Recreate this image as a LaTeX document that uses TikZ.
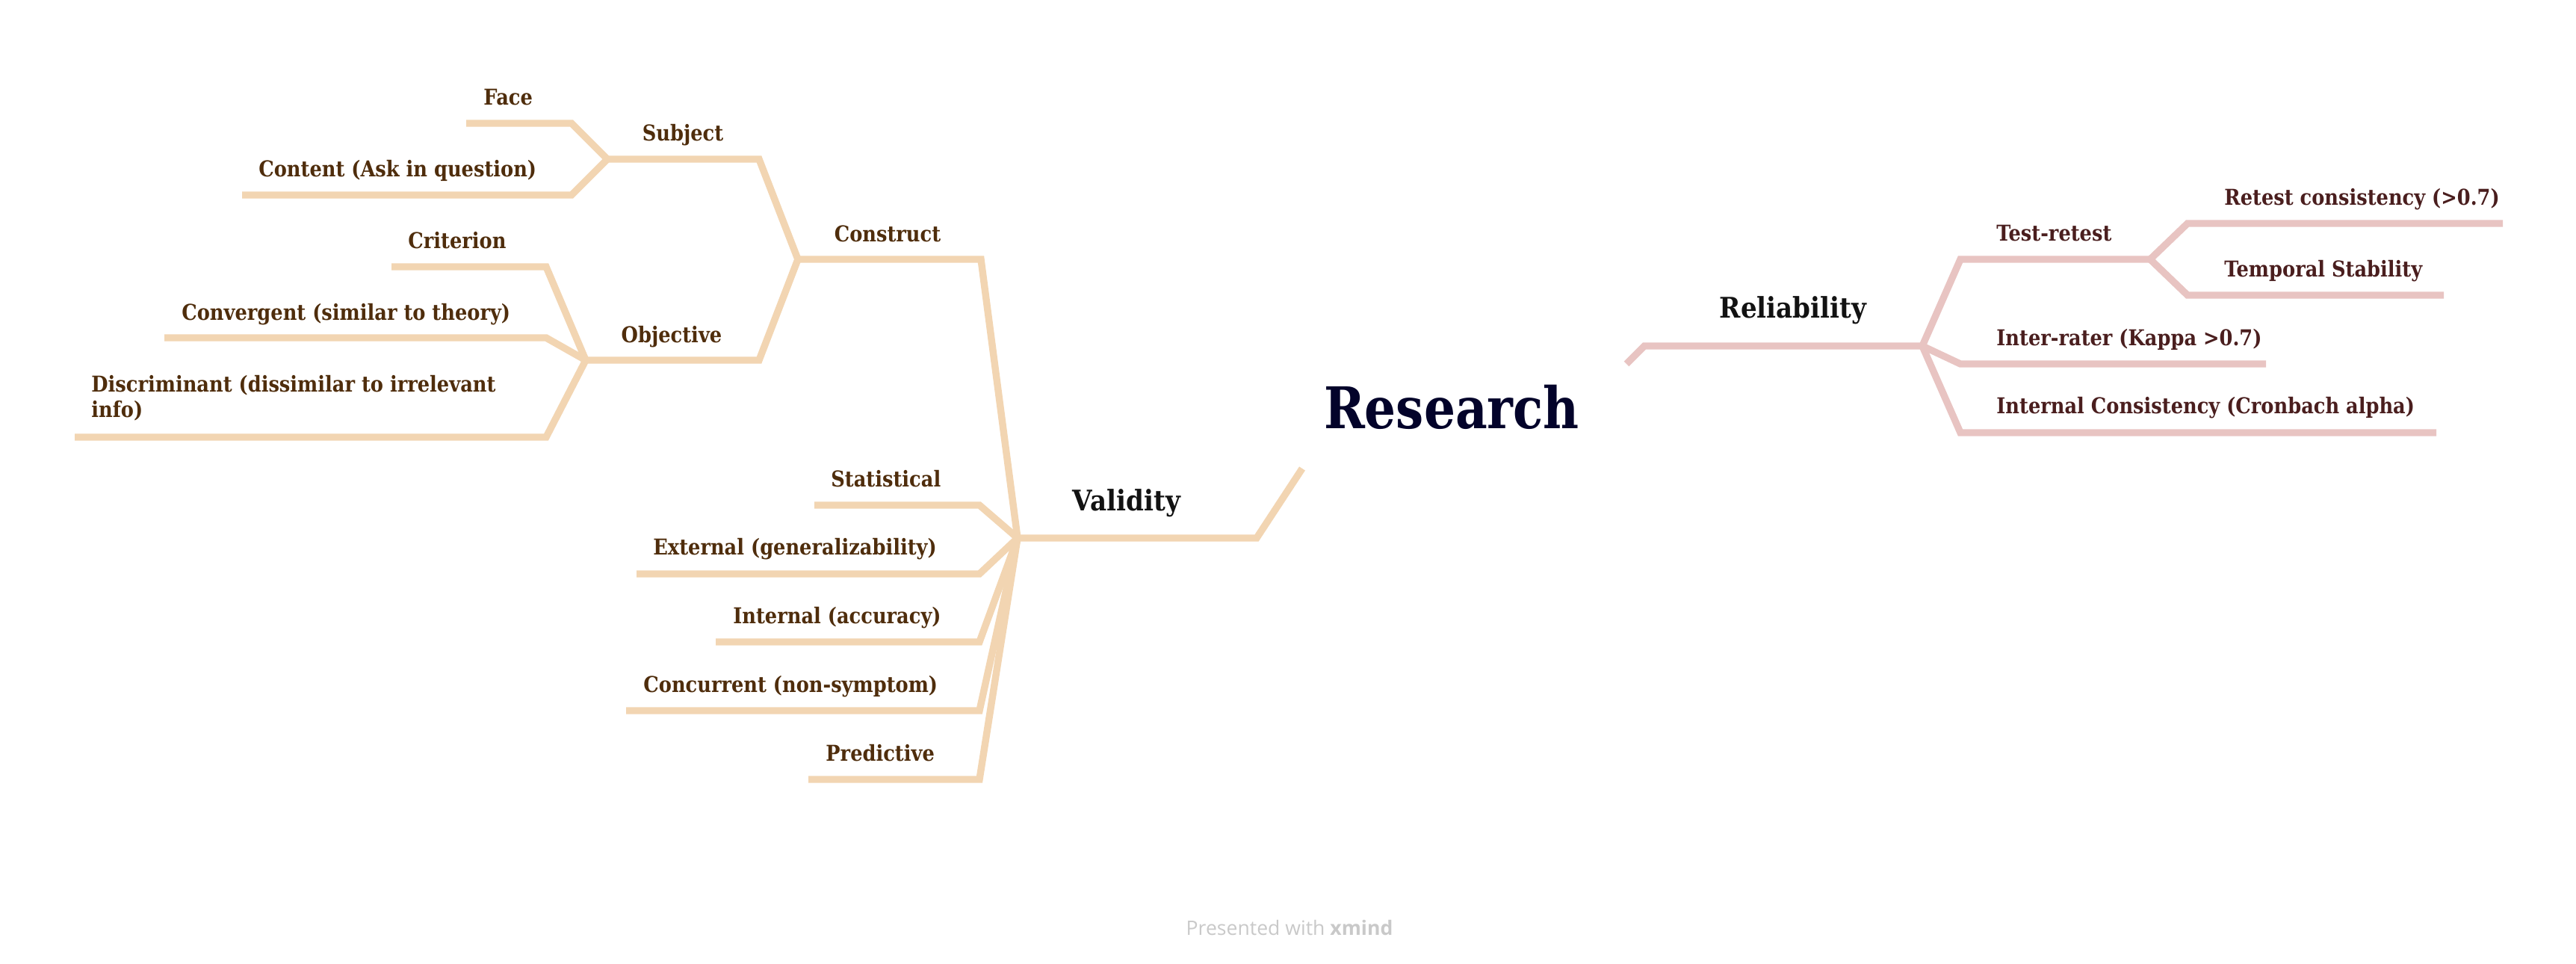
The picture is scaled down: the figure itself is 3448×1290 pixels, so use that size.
\documentclass[tikz,border=0pt]{standalone}
\usepackage{fontspec}
\newfontfamily\xmfont[FakeStretch=0.86]{DejaVu Serif}
\newfontfamily\xmleaf[FakeStretch=0.88]{DejaVu Serif}
\newfontfamily\xmmain[FakeStretch=0.9]{DejaVu Serif}
\newfontfamily\ftfont{Open Sans}
\definecolor{beigeL}{HTML}{F2D5B2}
\definecolor{pinkL}{HTML}{E8C4C2}
\definecolor{brownT}{HTML}{4F2D0C}
\definecolor{maroonT}{HTML}{4A1E1E}
\definecolor{navyT}{HTML}{03032A}
\definecolor{darkT}{HTML}{121212}
\definecolor{grayT}{HTML}{C9C9C9}
\tikzset{
  lineL/.style={draw=beigeL, line width=4.7pt, line join=miter},
  lineR/.style={draw=pinkL, line width=4.7pt, line join=miter},
  leafL/.style={anchor=base west, inner sep=0pt, text=brownT, font=\xmleaf\bfseries\fontsize{14.6}{17.3}\selectfont},
  leafR/.style={anchor=base west, inner sep=0pt, text=maroonT, font=\xmleaf\bfseries\fontsize{14.6}{17.3}\selectfont},
  midL/.style={anchor=base, inner sep=0pt, text=brownT, font=\xmleaf\bfseries\fontsize{14.6}{17.3}\selectfont},
  mainT/.style={anchor=base, inner sep=0pt, text=darkT, font=\xmmain\bfseries\fontsize{19}{22}\selectfont},
  rootT/.style={anchor=base, inner sep=0pt, text=navyT, font=\xmfont\bfseries\fontsize{38.4}{44}\selectfont},
  footT/.style={anchor=base, inner sep=0pt, text=grayT, font=\ftfont\fontsize{13.3}{16}\selectfont}
}
\begin{document}
\begin{tikzpicture}[x=0.5pt,y=-0.5pt]
\useasboundingbox (0,0) rectangle (3448,1290);
\fill[white] (0,0) rectangle (3448,1290);

% ---------- hubs and corners (left, validity) ----------
\coordinate (cL) at (1743,627);
\coordinate (vC) at (1682,720);
\coordinate (vH) at (1362,720);
\coordinate (coC) at (1313,347);
\coordinate (coH) at (1068,347);
\coordinate (suC) at (1016,213);
\coordinate (suH) at (813,213);
\coordinate (faC) at (765,165);
\coordinate (faE) at (624,165);
\coordinate (ctC) at (765,261);
\coordinate (ctE) at (324,261);
\coordinate (obC) at (1016,482);
\coordinate (obH) at (784,482);
\coordinate (crC) at (731,357);
\coordinate (crE) at (524,357);
\coordinate (cvC) at (731,452);
\coordinate (cvE) at (220,452);
\coordinate (diC) at (731,585);
\coordinate (diE) at (100,585);
\coordinate (stC) at (1311,676);
\coordinate (stE) at (1090,676);
\coordinate (exC) at (1311,768);
\coordinate (exE) at (852,768);
\coordinate (inC) at (1311,859);
\coordinate (inE) at (958,859);
\coordinate (ccC) at (1311,951);
\coordinate (ccE) at (838,951);
\coordinate (prC) at (1311,1043);
\coordinate (prE) at (1082,1043);

% ---------- right, reliability ----------
\coordinate (cR) at (2177,487);
\coordinate (rC) at (2201,463);
\coordinate (rH) at (2573,463);
\coordinate (trC) at (2624,347);
\coordinate (trH) at (2878,347);
\coordinate (rtC) at (2928,299);
\coordinate (rtE) at (3350,299);
\coordinate (tsC) at (2928,395);
\coordinate (tsE) at (3271,395);
\coordinate (irC) at (2624,487);
\coordinate (irE) at (3033,487);
\coordinate (icC) at (2624,579);
\coordinate (icE) at (3261,579);

% ---------- connectors ----------
\draw[lineL] (cL) -- (vC) -- (vH);
\draw[lineL] (vH) -- (coC) -- (coH);
\draw[lineL] (coH) -- (suC) -- (suH);
\draw[lineL] (suH) -- (faC) -- (faE);
\draw[lineL] (suH) -- (ctC) -- (ctE);
\draw[lineL] (coH) -- (obC) -- (obH);
\draw[lineL] (obH) -- (crC) -- (crE);
\draw[lineL] (obH) -- (cvC) -- (cvE);
\draw[lineL] (obH) -- (diC) -- (diE);
\draw[lineL] (vH) -- (stC) -- (stE);
\draw[lineL] (vH) -- (exC) -- (exE);
\draw[lineL] (vH) -- (inC) -- (inE);
\draw[lineL] (vH) -- (ccC) -- (ccE);
\draw[lineL] (vH) -- (prC) -- (prE);

\draw[lineR] (cR) -- (rC) -- (rH);
\draw[lineR] (rH) -- (trC) -- (trH);
\draw[lineR] (trH) -- (rtC) -- (rtE);
\draw[lineR] (trH) -- (tsC) -- (tsE);
\draw[lineR] (rH) -- (irC) -- (irE);
\draw[lineR] (rH) -- (icC) -- (icE);

% ---------- labels ----------
\node[rootT] (research) at (1943,573) {Research};
\node[mainT] (validity) at (1508,683) {Validity};
\node[mainT] (reliability) at (2400,425) {Reliability};

\node[midL] (construct) at (1188,323) {Construct};
\node[midL] (subject) at (914,188) {Subject};
\node[midL] (objective) at (899,458) {Objective};
\node[leafL] (face) at (647,140) {Face};
\node[leafL] (content) at (346,236) {Content (Ask in question)};
\node[leafL] (criterion) at (546,332) {Criterion};
\node[leafL] (convergent) at (243,428) {Convergent (similar to theory)};
\node[leafL] (discriminant) at (122,524) {\begin{tabular}[t]{@{}l@{}}Discriminant (dissimilar to irrelevant\\info)\end{tabular}};
\node[leafL] (statistical) at (1112,651) {Statistical};
\node[leafL] (external) at (874,742) {External (generalizability)};
\node[leafL] (internal) at (981,834) {Internal (accuracy)};
\node[leafL] (concurrent) at (861,926) {Concurrent (non-symptom)};
\node[leafL] (predictive) at (1105,1018) {Predictive};

\node[leafR] (testretest) at (2672,322) {Test-retest};
\node[leafR] (retest) at (2977,274) {Retest consistency (>0.7)};
\node[leafR] (temporal) at (2977,370) {Temporal Stability};
\node[leafR] (interrater) at (2672,462) {Inter-rater (Kappa >0.7)};
\node[leafR] (intcons) at (2672,553) {Internal Consistency (Cronbach alpha)};

\node[footT] (footer) at (1726,1251) {Presented with \textbf{xmind}};
\end{tikzpicture}
\end{document}
